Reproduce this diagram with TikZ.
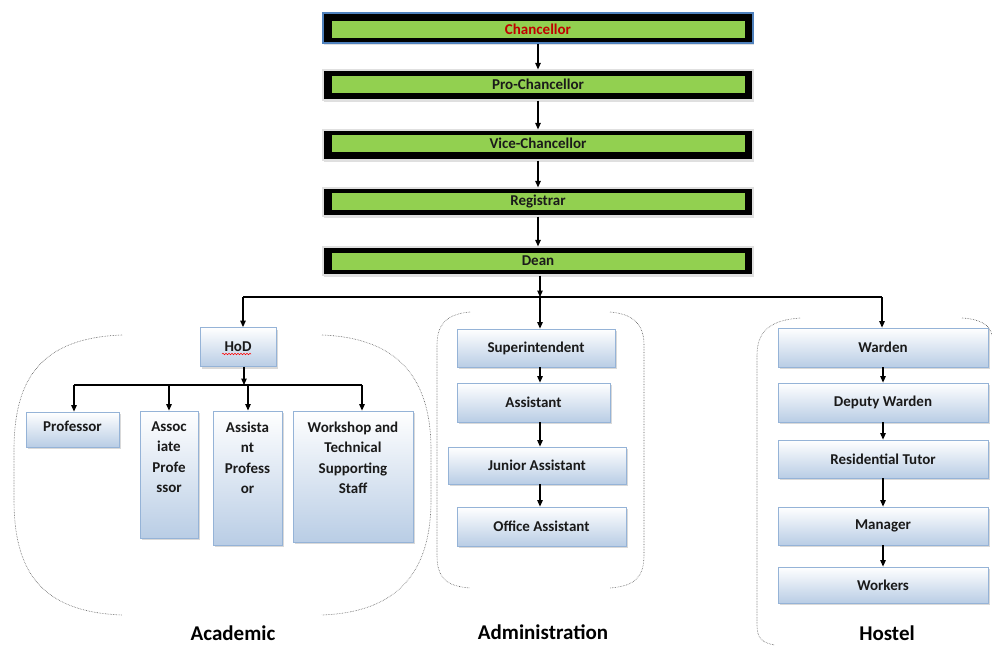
\documentclass[tikz,border=0pt]{standalone}
\usepackage{fontspec}
\setmainfont{Carlito}
\usetikzlibrary{arrows.meta,shadows,decorations.pathmorphing}
\definecolor{lgreen}{HTML}{92D050}
\definecolor{bord}{HTML}{95B3D7}
\definecolor{bfill}{HTML}{B9CDE5}
\definecolor{chblue}{HTML}{4F81BD}
\definecolor{txt}{HTML}{1A1A1A}
\definecolor{chred}{HTML}{C00000}
\begin{document}
\begin{tikzpicture}[x=1pt,y=-1pt,
 outerbox/.style={draw=black!12, line width=1.2pt, fill=black, inner sep=0pt, minimum width=430pt, minimum height=30pt, drop shadow={opacity=0.25,shadow xshift=1pt,shadow yshift=-2pt}},
 greenbar/.style={fill=lgreen, inner sep=0pt, minimum width=413pt, minimum height=17pt, font=\fontsize{15}{16}\selectfont\bfseries, text=txt},
 bbox/.style={draw=bord, line width=0.8pt, top color=white, bottom color=bfill, inner sep=0pt, font=\fontsize{15}{16}\selectfont\bfseries, text=txt, drop shadow={opacity=0.3, shadow xshift=2pt, shadow yshift=-2pt}},
 lbl/.style={font=\fontsize{15}{20.5}\selectfont\bfseries, text=txt, align=center, inner sep=0pt},
 arr/.style={-{Triangle[length=6.5pt,width=5.5pt]}, line width=1.1pt},
 ln/.style={line width=1.1pt},
 brk/.style={densely dotted, draw=black!65, line width=0.6pt},
 grp/.style={font=\fontsize{21}{24}\selectfont\bfseries, text=black}
]
\useasboundingbox (0,0) rectangle (992,645);

% top chain
\node[outerbox, draw=chblue, line width=2.5pt, minimum width=430pt, minimum height=30pt] (chanc) at (538,28) {};
\node[greenbar, text=chred] (chancg) at (538,29) {Chancellor};
\node[outerbox, minimum height=30pt] (pro) at (538,85) {};
\node[greenbar] (prog) at (538,84.5) {Pro-Chancellor};
\node[outerbox, minimum height=30pt] (vice) at (538,145) {};
\node[greenbar] (viceg) at (538,143.5) {Vice-Chancellor};
\node[outerbox, minimum height=28pt] (reg) at (538,202) {};
\node[greenbar] (regg) at (538,201.5) {Registrar};
\node[outerbox, minimum height=28pt] (dean) at (538,261) {};
\node[greenbar] (deang) at (538,261) {Dean};

\draw[arr] (chanc.south) -- (pro.north);
\draw[arr] (pro.south) -- (vice.north);
\draw[arr] (vice.south) -- (reg.north);
\draw[arr] (reg.south) -- (dean.north);

% main bar
\coordinate (bar) at (540,297);
\coordinate (barL) at (243,297);
\coordinate (barR) at (882,297);
\draw[arr] (dean.south -| bar) -- (bar);
\draw[ln] (barL) -- (barR);

% Academic
\node[bbox, minimum width=76pt, minimum height=39pt] (hod) at (238,347) {HoD};
\draw[red, line width=0.5pt, decorate, decoration={snake, amplitude=0.8pt, segment length=3pt}] (222,354) -- (251,354);
\draw[arr] (barL) -- (barL |- hod.north);

\coordinate (sbar) at (244,385);
\coordinate (sbarL) at (74,385);
\coordinate (sbarR) at (362,385);
\draw[arr] (sbar |- hod.south) -- (sbar);
\draw[ln] (sbarL) -- (sbarR);

\node[bbox, minimum width=93pt, minimum height=35pt] (prof) at (72.5,429.5) {};
\node[lbl, anchor=north] (proft) at (72.5,421) {Professor};
\node[bbox, minimum width=58pt, minimum height=127pt] (assoc) at (169,474.5) {};
\node[lbl, anchor=north] (assoct) at (169,421.5) {Assoc\\iate\\Profe\\ssor};
\node[bbox, minimum width=69pt, minimum height=134pt] (asst) at (247.5,478) {};
\node[lbl, anchor=north] (asstt) at (247.5,421.5) {Assista\\nt\\Profess\\or};
\node[bbox, minimum width=120pt, minimum height=131pt] (work) at (353,476.5) {};
\node[lbl, anchor=north] (workt) at (353,421.5) {Workshop and\\Technical\\Supporting\\Staff};

\draw[arr] (sbarL) -- (sbarL |- prof.north);
\draw[arr] (169,385) -- (assoc.north);
\draw[arr] (248,385) -- (248,410.5);
\draw[arr] (sbarR) -- (sbarR |- work.north);

\draw[brk] (122,335) .. controls (40,338) and (14,380) .. (14,450) -- (14,500) .. controls (14,570) and (40,612) .. (122,615);
\draw[brk] (322,335) .. controls (400,338) and (431,380) .. (431,450) -- (431,500) .. controls (431,570) and (400,612) .. (322,615);
\node[grp] (acad) at (233,633) {Academic};

% Administration
\node[bbox, minimum width=158pt, minimum height=38pt] (sup) at (536,348) {Superintendent};
\node[bbox, minimum width=153pt, minimum height=39pt] (ast) at (533.5,402.5) {Assistant};
\node[bbox, minimum width=178pt, minimum height=37pt] (jun) at (537,465.5) {Junior Assistant};
\node[bbox, minimum width=169pt, minimum height=39pt] (off) at (541.5,526.5) {Office Assistant};
\draw[arr] (bar) -- (bar |- sup.north);
\draw[arr] (bar |- sup.south) -- (bar |- ast.north);
\draw[arr] (bar |- ast.south) -- (bar |- jun.north);
\draw[arr] (bar |- jun.south) -- (bar |- off.north);

\draw[brk] (470,312) .. controls (446,314) and (437,325) .. (437,345) -- (437,555) .. controls (437,578) and (446,586) .. (470,588);
\draw[brk] (610,312) .. controls (634,314) and (644,325) .. (644,345) -- (644,555) .. controls (644,578) and (634,586) .. (610,588);
\node[grp] (admin) at (543,632) {Administration};

% Hostel
\node[bbox, minimum width=210pt, minimum height=39pt] (war) at (883,347.5) {Warden};
\node[bbox, minimum width=210pt, minimum height=39pt] (dep) at (883,402.5) {Deputy Warden};
\node[bbox, minimum width=210pt, minimum height=38pt] (res) at (883,459) {Residential Tutor};
\node[bbox, minimum width=210pt, minimum height=38pt] (man) at (883,526) {Manager};
\node[bbox, minimum width=210pt, minimum height=36pt] (wor) at (883,585) {Workers};
\draw[arr] (barR) -- (barR |- war.north);
\draw[arr] (war.south) -- (dep.north);
\draw[arr] (dep.south) -- (res.north);
\draw[arr] (res.south) -- (man.north);
\draw[arr] (man.south) -- (wor.north);

\draw[brk] (800,318) .. controls (772,320) and (757,330) .. (757,355) -- (757,625) .. controls (757,638) and (762,643) .. (775,645);
\draw[brk] (962,318) .. controls (980,319) and (990,325) .. (992,335);
\node[grp] (hostel) at (887,633) {Hostel};
\end{tikzpicture}
\end{document}
